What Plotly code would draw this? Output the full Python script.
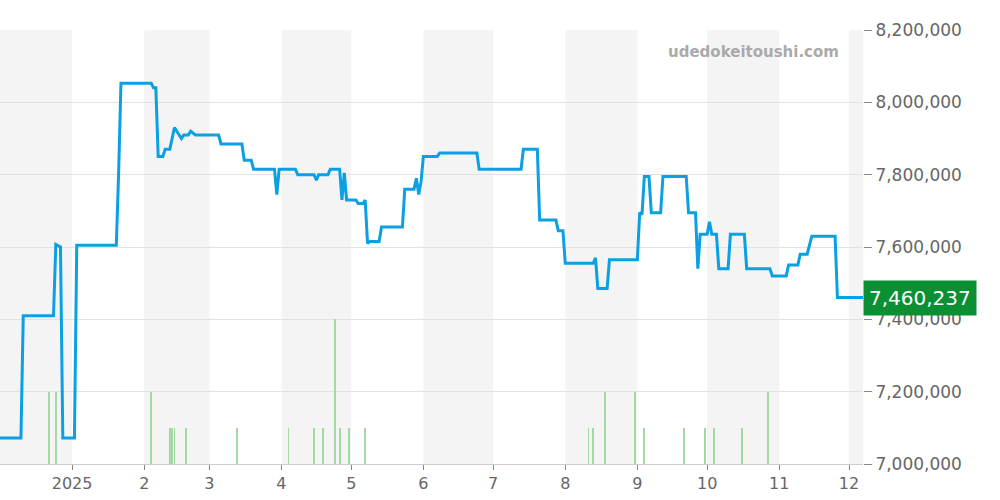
import plotly.graph_objects as go

dates = ["2024-12-01","2024-12-10","2024-12-11","2024-12-24","2024-12-25","2024-12-27","2024-12-28","2025-01-02","2025-01-03","2025-01-20","2025-01-21","2025-01-22","2025-02-04","2025-02-05","2025-02-06","2025-02-07","2025-02-09","2025-02-10","2025-02-12","2025-02-14","2025-02-15","2025-02-17","2025-02-18","2025-02-20","2025-02-21","2025-02-23","2025-03-05","2025-03-06","2025-03-15","2025-03-16","2025-03-19","2025-03-20","2025-03-29","2025-03-30","2025-03-31","2025-04-07","2025-04-08","2025-04-15","2025-04-16","2025-04-17","2025-04-21","2025-04-22","2025-04-26","2025-04-27","2025-04-28","2025-04-29","2025-05-03","2025-05-04","2025-05-06","2025-05-07","2025-05-08","2025-05-09","2025-05-13","2025-05-14","2025-05-23","2025-05-24","2025-05-28","2025-05-29","2025-05-30","2025-05-31","2025-06-01","2025-06-07","2025-06-08","2025-06-24","2025-06-25","2025-07-13","2025-07-14","2025-07-20","2025-07-21","2025-07-28","2025-07-29","2025-07-31","2025-08-01","2025-08-13","2025-08-14","2025-08-15","2025-08-19","2025-08-20","2025-09-01","2025-09-02","2025-09-03","2025-09-04","2025-09-06","2025-09-07","2025-09-11","2025-09-12","2025-09-22","2025-09-23","2025-09-26","2025-09-27","2025-09-28","2025-10-01","2025-10-02","2025-10-03","2025-10-05","2025-10-06","2025-10-10","2025-10-11","2025-10-17","2025-10-18","2025-10-28","2025-10-29","2025-11-04","2025-11-05","2025-11-09","2025-11-10","2025-11-13","2025-11-15","2025-11-25","2025-11-26","2025-12-07"]
prices = [7072000,7072000,7410000,7410000,7607000,7600000,7072000,7072000,7605000,7605000,7805000,8053000,8053000,8040000,8040000,7850000,7850000,7870000,7870000,7930000,7920000,7900000,7910000,7910000,7920000,7910000,7910000,7885000,7885000,7840000,7840000,7815000,7815000,7745000,7815000,7815000,7800000,7800000,7785000,7800000,7800000,7815000,7815000,7730000,7805000,7730000,7730000,7720000,7720000,7730000,7610000,7615000,7615000,7655000,7655000,7760000,7760000,7790000,7745000,7780000,7850000,7850000,7860000,7860000,7815000,7815000,7870000,7870000,7675000,7675000,7645000,7645000,7555000,7555000,7570000,7485000,7485000,7565000,7565000,7695000,7690000,7795000,7795000,7695000,7695000,7795000,7795000,7695000,7695000,7540000,7635000,7635000,7670000,7635000,7635000,7540000,7540000,7635000,7635000,7540000,7540000,7520000,7520000,7550000,7550000,7580000,7580000,7630000,7630000,7460237,7460237]

vol_dates = ["2024-12-22","2024-12-25","2025-02-04","2025-02-12","2025-02-13","2025-02-14","2025-02-19","2025-03-13","2025-04-04","2025-04-15","2025-04-19","2025-04-24","2025-04-26","2025-04-30","2025-05-07","2025-08-11","2025-08-13","2025-08-18","2025-08-31","2025-09-04","2025-09-21","2025-09-30","2025-10-04","2025-10-16","2025-10-27"]
volumes = [2,2,2,1,1,1,1,1,1,1,1,4,1,1,1,1,1,2,2,1,1,1,1,1,2]

tick_vals = ["2025-01-01","2025-02-01","2025-03-01","2025-04-01","2025-05-01","2025-06-01","2025-07-01","2025-08-01","2025-09-01","2025-10-01","2025-11-01","2025-12-01"]
tick_text = ["2025","2","3","4","5","6","7","8","9","10","11","12"]
shade = [("2024-11-25","2025-01-01"),("2025-02-01","2025-03-01"),("2025-04-01","2025-05-01"),("2025-06-01","2025-07-01"),("2025-08-01","2025-09-01"),("2025-10-01","2025-11-01"),("2025-12-01","2025-12-31")]
last_price = prices[-1]

fig = go.Figure()
fig.add_trace(go.Bar(x=vol_dates, y=volumes, yaxis="y2", marker=dict(color="#a3daa3", line_width=0), width=86400000*0.35, showlegend=False))
fig.add_trace(go.Scatter(x=dates, y=prices, mode="lines", line=dict(color="#0ba0e3", width=3), showlegend=False))

for a, b in shade:
    fig.add_vrect(x0=a, x1=b, fillcolor="#f4f4f4", line_width=0, layer="below")

fig.update_layout(
    width=1000, height=500, margin=dict(l=0, r=137, t=30, b=36, autoexpand=False),
    plot_bgcolor="white", paper_bgcolor="white",
    xaxis=dict(range=["2024-12-01","2025-12-07"], tickvals=tick_vals, ticktext=tick_text, showgrid=False,
               ticks="outside", ticklen=5, tickcolor="#888", showline=True, linecolor="#ccc", automargin=False,
               tickfont=dict(family="DejaVu Sans", size=16, color="#666")),
    yaxis=dict(side="right", range=[7000000, 8200000], dtick=200000, tickformat=",d", gridcolor="#e2e2e2",
               ticks="outside", ticklen=8, tickcolor="#888", zeroline=False, automargin=False,
               tickfont=dict(family="DejaVu Sans", size=17, color="#666")),
    yaxis2=dict(overlaying="y", range=[0, 12], visible=False),
    bargap=0,
    annotations=[
        dict(x=0.975, y=0.975, xref="paper", yref="paper", xanchor="right", yanchor="top",
             text="<b>udedokeitoushi.com</b>", showarrow=False, font=dict(family="DejaVu Sans", size=15, color="#aaa")),
        dict(x=1.0, y=last_price, xref="paper", yref="y", xanchor="left", yanchor="middle",
             text=f"{last_price:,}", showarrow=False, bgcolor="#0b8f33", borderpad=5,
             font=dict(family="DejaVu Sans", size=20, color="white")),
    ],
)
fig.write_html("out.html", config={"displayModeBar": False}, post_script="document.body.style.margin='0px';")
